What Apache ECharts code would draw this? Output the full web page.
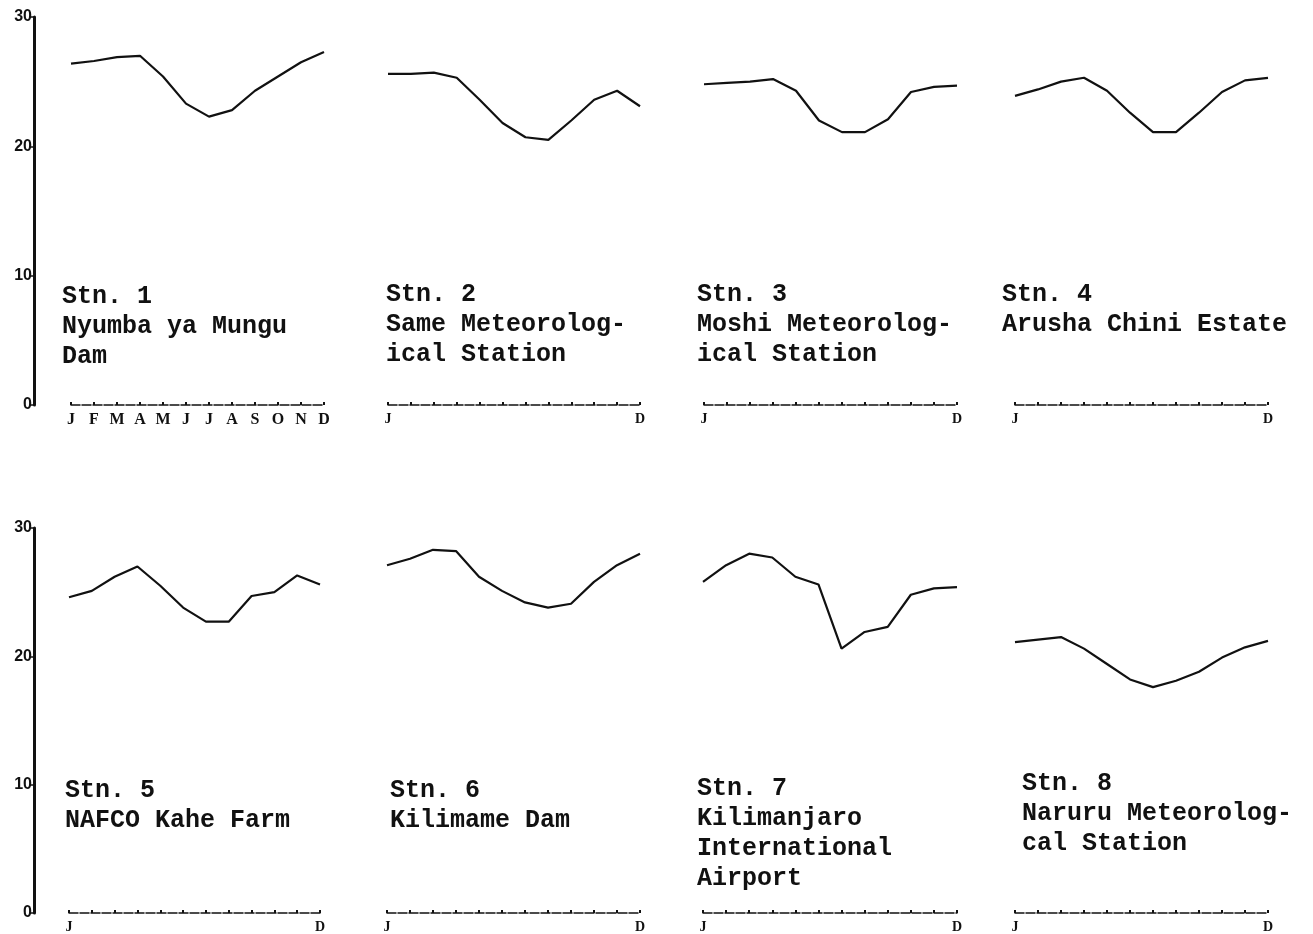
<!DOCTYPE html>
<html>
<head>
<meta charset="utf-8">
<script src="https://cdn.jsdelivr.net/npm/echarts@6/dist/echarts.min.js"></script>
<style>
  body { margin: 0; background: #fff; }
</style>
</head>
<body>
<div id="myEchart" style="width:1313px;height:934px"></div>
<script>
// months (only the first letter is printed on the axes)
var months = ["Jan", "Feb", "Mar", "Apr", "May", "Jun", "Jul", "Aug", "Sep", "Oct", "Nov", "Dec"];
var yTicks = [0, 10, 20, 30];

// monthly mean temperature, deg C
var stn1 = [26.4, 26.6, 26.9, 27.0, 25.4, 23.3, 22.3, 22.8, 24.3, 25.4, 26.5, 27.3];
var stn2 = [25.6, 25.6, 25.7, 25.3, 23.6, 21.8, 20.7, 20.5, 22.0, 23.6, 24.3, 23.1];
var stn3 = [24.8, 24.9, 25.0, 25.2, 24.3, 22.0, 21.1, 21.1, 22.1, 24.2, 24.6, 24.7];
var stn4 = [23.9, 24.4, 25.0, 25.3, 24.3, 22.6, 21.1, 21.1, 22.6, 24.2, 25.1, 25.3];
var stn5 = [24.6, 25.1, 26.2, 27.0, 25.5, 23.8, 22.7, 22.7, 24.7, 25.0, 26.3, 25.6];
var stn6 = [27.1, 27.6, 28.3, 28.2, 26.2, 25.1, 24.2, 23.8, 24.1, 25.8, 27.1, 28.0];
var stn7 = [25.8, 27.1, 28.0, 27.7, 26.2, 25.6, 20.6, 21.9, 22.3, 24.8, 25.3, 25.4];
var stn8 = [21.1, 21.3, 21.5, 20.6, 19.4, 18.2, 17.6, 18.1, 18.8, 19.9, 20.7, 21.2];

var stations = [
  { name: "Stn. 1\nNyumba ya Mungu\nDam", data: stn1 },
  { name: "Stn. 2\nSame Meteorolog-\nical Station", data: stn2 },
  { name: "Stn. 3\nMoshi Meteorolog-\nical Station", data: stn3 },
  { name: "Stn. 4\nArusha Chini Estate", data: stn4 },
  { name: "Stn. 5\nNAFCO Kahe Farm", data: stn5 },
  { name: "Stn. 6\nKilimame Dam", data: stn6 },
  { name: "Stn. 7\nKilimanjaro\nInternational\nAirport", data: stn7 },
  { name: "Stn. 8\nNaruru Meteorolog-\ncal Station", data: stn8 }
];

// panel boxes: left, width, top, height
var boxes = [
  [71, 253, 17, 388], [388, 252, 17, 388], [704, 253, 17, 388], [1015, 253, 17, 388],
  [69, 251, 528, 388], [387, 253, 528, 388], [703, 254, 528, 388], [1015, 253, 528, 388]
];
// where the station text sits
var textPos = [
  [62, 282], [386, 280], [697, 280], [1002, 280],
  [65, 776], [390, 776], [697, 774], [1022, 769]
];

var grids = [], xAxes = [], yAxes = [], series = [], titles = [];

for (var i = 0; i < stations.length; i++) {
  var b = boxes[i];
  grids.push({ left: b[0], width: b[1], top: b[2], height: b[3] });

  var allLetters = (i === 0);
  xAxes.push({
    gridIndex: i,
    type: "category",
    boundaryGap: false,
    data: months,
    offset: 3,
    axisLine: { lineStyle: { color: "#111", width: 1.5, type: [9, 2] } },
    axisTick: { show: true, inside: true, length: 3, alignWithLabel: true, lineStyle: { color: "#111", width: 2 } },
    axisLabel: {
      interval: 0,
      margin: 4,
      color: "#111",
      fontFamily: "Liberation Serif",
      fontWeight: "bold",
      fontSize: allLetters ? 16 : 14,
      formatter: (function (all) {
        return function (v, idx) {
          if (all || idx === 0 || idx === months.length - 1) return v.charAt(0);
          return "";
        };
      })(allLetters)
    },
    splitLine: { show: false }
  });

  var showY = (i === 0 || i === 4);
  yAxes.push({
    gridIndex: i,
    type: "value",
    min: 0,
    max: 30,
    interval: 10,
    show: showY,
    offset: showY ? b[0] - 34 : 0,
    axisLine: { show: true, lineStyle: { color: "#111", width: 3 } },
    axisTick: { show: true, length: 4, lineStyle: { color: "#111", width: 1.5 } },
    axisLabel: {
      color: "#111",
      fontFamily: "Liberation Sans Narrow, Liberation Sans",
      fontWeight: "bold",
      fontSize: 16,
      margin: 2,
      formatter: function (v) { return yTicks.indexOf(v) >= 0 ? String(v) : ""; }
    },
    splitLine: { show: false }
  });

  series.push({
    type: "line",
    xAxisIndex: i,
    yAxisIndex: i,
    data: stations[i].data,
    symbol: "none",
    lineStyle: { color: "#111", width: 2.2 },
    animation: false
  });

  titles.push({
    text: stations[i].name,
    left: textPos[i][0],
    top: textPos[i][1],
    padding: 0,
    textStyle: {
      color: "#111",
      fontFamily: "Liberation Mono",
      fontWeight: "bold",
      fontSize: 25,
      lineHeight: 30
    }
  });
}

var myChart = echarts.init(document.getElementById("myEchart"));
myChart.setOption({
  backgroundColor: "#fff",
  animation: false,
  title: titles,
  grid: grids,
  xAxis: xAxes,
  yAxis: yAxes,
  series: series
});
</script>
</body>
</html>
